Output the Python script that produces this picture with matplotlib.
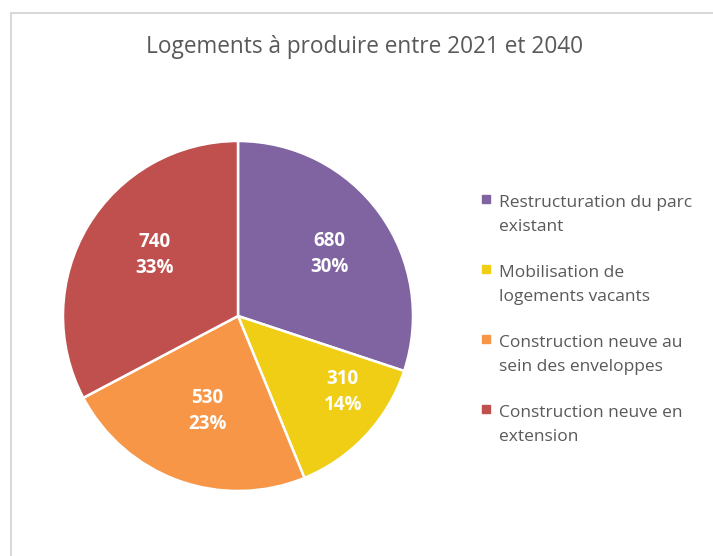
import matplotlib
matplotlib.use("Agg")
import matplotlib.pyplot as plt
from matplotlib.lines import Line2D
import numpy as np

title = "Logements à produire entre 2021 et 2040"
categories = ["Restructuration du parc\nexistant",
              "Mobilisation de\nlogements vacants",
              "Construction neuve au\nsein des enveloppes",
              "Construction neuve en\nextension"]
values = [680, 310, 530, 740]
percents = ["30%", "14%", "23%", "33%"]
colors = ["#8064A2", "#F0CE15", "#F79646", "#C0504D"]

W, H = 713, 556
fig = plt.figure(figsize=(W/100, H/100), dpi=100)
fig.patch.set_facecolor("white")

# chart border (only top & left visible)
fig.add_artist(Line2D([11/W, 11/W], [0, 1-13/H], color="#D9D9D9", lw=1.5, transform=fig.transFigure))
fig.add_artist(Line2D([11/W, 1], [1-13/H, 1-13/H], color="#D9D9D9", lw=1.5, transform=fig.transFigure))

cx, cy, r = 238, 316, 175
ax = fig.add_axes([(cx-r)/W, (H-cy-r)/H, 2*r/W, 2*r/H])
wedges, _ = ax.pie(values, colors=colors, startangle=90, counterclock=False,
                   wedgeprops=dict(edgecolor="white", linewidth=1.8))
ax.set_xlim(-1, 1); ax.set_ylim(-1, 1)
ax.set_aspect("equal")
ax.axis("off")

# label placements (radius fraction, angle in degrees)
label_pos = [(0.63, 34), (0.74, -36), (0.57, -108), (0.59, 144)]
for v, p, (rr, ang) in zip(values, percents, label_pos):
    a = np.deg2rad(ang)
    ax.text(rr*np.cos(a), rr*np.sin(a), f"{v}\n{p}", ha="center", va="center",
            color="white", fontsize=13.5, fontweight="bold", linespacing=1.4,
            family=["Open Sans", "DejaVu Sans"])

fig.text(365/W, 1-47/H, title, ha="center", va="center", fontsize=16.3,
         color="#595959", family=["Open Sans", "DejaVu Sans"])

handles = [Line2D([], [], marker="s", linestyle="none", markersize=6,
                  markerfacecolor=c, markeredgecolor=c) for c in colors]
leg = fig.legend(handles, categories, loc="upper left",
                 bbox_to_anchor=(465/W, 1-163/H), frameon=False,
                 prop=dict(family=["Open Sans", "DejaVu Sans"], size=12.5),
                 labelcolor="#595959", handlelength=0.6, handletextpad=0.45,
                 labelspacing=1.72)
for t in leg.get_texts():
    t.set_linespacing(1.68)
    t.set_va("center")

fig.savefig("out.png", dpi=100, facecolor="white")
